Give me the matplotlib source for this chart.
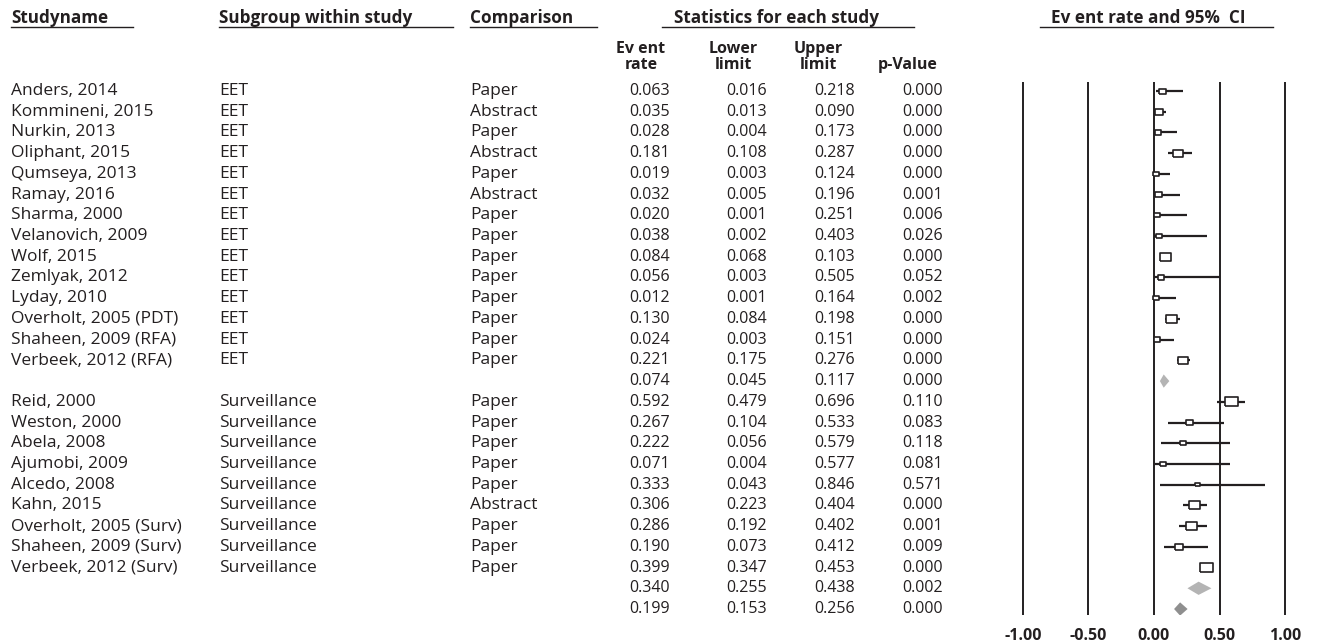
import matplotlib.pyplot as plt

plt.rcParams['font.family'] = ['Open Sans', 'DejaVu Sans']

INK = '#231f20'

# study level data
study_names = ["Anders, 2014", "Kommineni, 2015", "Nurkin, 2013", "Oliphant, 2015",
               "Qumseya, 2013", "Ramay, 2016", "Sharma, 2000", "Velanovich, 2009",
               "Wolf, 2015", "Zemlyak, 2012", "Lyday, 2010", "Overholt, 2005 (PDT)",
               "Shaheen, 2009 (RFA)", "Verbeek, 2012 (RFA)",
               "Reid, 2000", "Weston, 2000", "Abela, 2008", "Ajumobi, 2009",
               "Alcedo, 2008", "Kahn, 2015", "Overholt, 2005 (Surv)",
               "Shaheen, 2009 (Surv)", "Verbeek, 2012 (Surv)"]
subgroups = ["EET"] * 14 + ["Surveillance"] * 9
comparisons = ["Paper", "Abstract", "Paper", "Abstract", "Paper", "Abstract", "Paper",
               "Paper", "Paper", "Paper", "Paper", "Paper", "Paper", "Paper",
               "Paper", "Paper", "Paper", "Paper", "Paper", "Abstract", "Paper",
               "Paper", "Paper"]
event_rate = [0.063, 0.035, 0.028, 0.181, 0.019, 0.032, 0.020, 0.038, 0.084, 0.056,
              0.012, 0.130, 0.024, 0.221,
              0.592, 0.267, 0.222, 0.071, 0.333, 0.306, 0.286, 0.190, 0.399]
lower = [0.016, 0.013, 0.004, 0.108, 0.003, 0.005, 0.001, 0.002, 0.068, 0.003,
         0.001, 0.084, 0.003, 0.175,
         0.479, 0.104, 0.056, 0.004, 0.043, 0.223, 0.192, 0.073, 0.347]
upper = [0.218, 0.090, 0.173, 0.287, 0.124, 0.196, 0.251, 0.403, 0.103, 0.505,
         0.164, 0.198, 0.151, 0.276,
         0.696, 0.533, 0.579, 0.577, 0.846, 0.404, 0.402, 0.412, 0.453]
p_values = [0.000, 0.000, 0.000, 0.000, 0.000, 0.001, 0.006, 0.026, 0.000, 0.052,
            0.002, 0.000, 0.000, 0.000,
            0.110, 0.083, 0.118, 0.081, 0.571, 0.000, 0.001, 0.009, 0.000]
rel_weight = [7, 8, 6, 10, 6, 7, 6, 6, 11, 6, 6, 11, 6, 10,
              13, 7, 6, 6, 5, 11, 11, 8, 13]

# pooled estimates: EET, Surveillance, overall
summary_group = ["EET", "Surveillance", None]
sum_rate = [0.074, 0.340, 0.199]
sum_lower = [0.045, 0.255, 0.153]
sum_upper = [0.117, 0.438, 0.256]
sum_p = [0.000, 0.002, 0.000]
sum_colors = ['#b4b4b4', '#b4b4b4', '#8f8f8f']

tick_values = [-1.0, -0.5, 0.0, 0.5, 1.0]

# row layout: each subgroup followed by its pooled row, overall at the end
study_rows = []
sum_rows = []
r = 0
for g in summary_group:
    if g is None:
        sum_rows.append(r)
        r += 1
        continue
    for s in subgroups:
        if s == g:
            study_rows.append(r)
            r += 1
    sum_rows.append(r)
    r += 1

# pixel geometry
W, H = 1317, 642
ROW0, PITCH = 91, 20.72


def px2row(py):
    return (py - ROW0) / PITCH


fig = plt.figure(figsize=(W / 100, H / 100), dpi=100)
ax = fig.add_axes([0, 0, 1, 1])
ax.set_xlim(0, W)
ax.set_ylim(px2row(H), px2row(0))
ax.axis('off')

fs_txt = 12.5   # names / labels
fs_num = 11.5   # numbers
fs_head = 12.3

# headers
hy = px2row(18)
uy = px2row(26.5)
heads = [("Studyname", 11, 'left', 11, 133),
         ("Subgroup within study", 219, 'left', 219, 453),
         ("Comparison", 470, 'left', 470, 597),
         ("Statistics for each study", 777, 'center', 662, 914),
         ("Ev ent rate and 95%  CI", 1148, 'center', 1040, 1273)]
for txt, x, ha, x0, x1 in heads:
    ax.text(x, hy, txt, ha=ha, va='center', fontsize=fs_head, fontweight='bold', color=INK)
    ax.plot([x0, x1], [uy, uy], color=INK, lw=1.0)

sub_heads = [("Ev ent", "rate", 641), ("Lower", "limit", 733),
             ("Upper", "limit", 818), ("", "p-Value", 908)]
for t1, t2, x in sub_heads:
    ax.text(x, px2row(49), t1, ha='center', va='center', fontsize=11.5,
            fontweight='bold', color=INK)
    ax.text(x, px2row(65), t2, ha='center', va='center', fontsize=11.5,
            fontweight='bold', color=INK)

num_cols = [670, 767, 855, 943]

for i, row in enumerate(study_rows):
    ax.text(11, row, study_names[i], ha='left', va='center', fontsize=fs_txt, color=INK)
    ax.text(219, row, subgroups[i], ha='left', va='center', fontsize=fs_txt, color=INK)
    ax.text(470, row, comparisons[i], ha='left', va='center', fontsize=fs_txt, color=INK)
    vals = [event_rate[i], lower[i], upper[i], p_values[i]]
    for x, v in zip(num_cols, vals):
        ax.text(x, row, f"{v:.3f}", ha='right', va='center', fontsize=fs_num, color=INK)

for j, row in enumerate(sum_rows):
    vals = [sum_rate[j], sum_lower[j], sum_upper[j], sum_p[j]]
    for x, v in zip(num_cols, vals):
        ax.text(x, row, f"{v:.3f}", ha='right', va='center', fontsize=fs_num, color=INK)

# forest plot
x_left, x_right = 1000, W
y_top, y_bot = 82, 615
unit = (1285 - 1022.7) / 2
zero = 1154
fax = fig.add_axes([x_left / W, 1 - y_bot / H, (x_right - x_left) / W, (y_bot - y_top) / H])
fax.set_xlim((x_left - zero) / unit, (x_right - zero) / unit)
fax.set_ylim(px2row(y_bot), px2row(y_top))
for s in fax.spines.values():
    s.set_visible(False)
fax.patch.set_alpha(0)
for v in tick_values:
    fax.axvline(v, color=INK, lw=1.4, zorder=1)

fax.hlines(study_rows, lower, upper, color=INK, lw=1.6, zorder=2)
box = [(-1.4, -1), (1.4, -1), (1.4, 1), (-1.4, 1), (-1.4, -1)]
sizes = [(w * 0.72) ** 2 for w in rel_weight]
fax.scatter(event_rate, study_rows, s=sizes, marker=box, facecolor='white',
            edgecolor=INK, linewidths=1.2, zorder=3)

dh = 0.32
for j, row in enumerate(sum_rows):
    fax.fill([sum_lower[j], sum_rate[j], sum_upper[j], sum_rate[j]],
             [row, row - dh, row, row + dh], color=sum_colors[j], lw=0, zorder=3)

fax.set_yticks([])
fax.set_xticks(tick_values)
fax.set_xticklabels([f"{v:.2f}" for v in tick_values], fontweight='bold',
                    fontsize=11.5, color=INK)
fax.tick_params(axis='x', length=0, pad=9)

fig.savefig('out.png', dpi=100)
